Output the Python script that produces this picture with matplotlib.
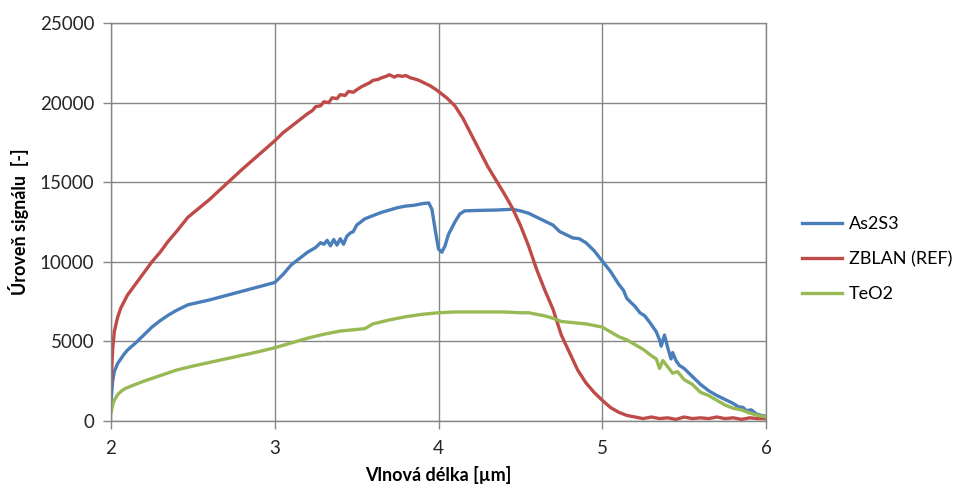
import matplotlib
matplotlib.use("Agg")
import matplotlib.pyplot as plt
from matplotlib.lines import Line2D

plt.rcParams['font.family'] = ['Lato', 'DejaVu Sans']

# ---- data ----
x_as2s3 = [2.00, 2.01, 2.02, 2.04, 2.06, 2.08, 2.10, 2.15, 2.20, 2.25, 2.30, 2.35, 2.40, 2.47,
           2.60, 2.80, 3.00, 3.05, 3.10, 3.15, 3.20, 3.25, 3.28, 3.30, 3.32, 3.34, 3.36, 3.38,
           3.40, 3.42, 3.44, 3.46, 3.48, 3.50, 3.55, 3.60, 3.65, 3.70, 3.75, 3.80, 3.85, 3.90,
           3.94, 3.96, 3.98, 4.00, 4.02, 4.04, 4.06, 4.08, 4.10, 4.13, 4.16, 4.25, 4.35, 4.45,
           4.50, 4.55, 4.60, 4.65, 4.70, 4.74, 4.78, 4.82, 4.86, 4.90, 4.95, 5.00, 5.05, 5.10,
           5.13, 5.15, 5.18, 5.20, 5.23, 5.26, 5.29, 5.31, 5.33, 5.35, 5.36, 5.38, 5.40, 5.42,
           5.43, 5.45, 5.47, 5.50, 5.55, 5.60, 5.65, 5.70, 5.75, 5.80, 5.83, 5.86, 5.88, 5.91,
           5.94, 5.97, 6.00]
y_as2s3 = [1200, 2500, 3100, 3600, 3900, 4200, 4450, 4900, 5400, 5900, 6300, 6650, 6950, 7300,
           7600, 8150, 8700, 9200, 9800, 10200, 10600, 10900, 11200, 11100, 11350, 11000, 11400, 11050,
           11450, 11100, 11600, 11800, 11900, 12300, 12700, 12900, 13100, 13250, 13400, 13500, 13550, 13650,
           13700, 13300, 12000, 10800, 10600, 11000, 11700, 12100, 12500, 13000, 13200, 13230, 13250, 13300,
           13200, 13050, 12800, 12550, 12300, 11900, 11700, 11500, 11450, 11200, 10700, 10050, 9400, 8600,
           8200, 7700, 7400, 7200, 6800, 6600, 6200, 5900, 5600, 5100, 4700, 5400, 4600, 3900,
           4300, 3800, 3500, 3300, 2800, 2300, 1900, 1600, 1350, 1100, 900, 850, 650, 700,
           450, 350, 300]

x_zblan = [2.00, 2.01, 2.02, 2.04, 2.06, 2.08, 2.10, 2.15, 2.20, 2.25, 2.30, 2.35, 2.40, 2.47,
           2.60, 2.80, 3.00, 3.05, 3.10, 3.15, 3.20, 3.23, 3.25, 3.28, 3.30, 3.33, 3.35, 3.38,
           3.40, 3.43, 3.45, 3.48, 3.50, 3.53, 3.55, 3.58, 3.60, 3.63, 3.65, 3.68, 3.70, 3.73,
           3.75, 3.78, 3.80, 3.83, 3.85, 3.88, 3.90, 3.93, 3.95, 3.98, 4.00, 4.05, 4.10, 4.15,
           4.20, 4.30, 4.40, 4.45, 4.50, 4.55, 4.60, 4.65, 4.70, 4.75, 4.80, 4.85, 4.90, 4.95,
           5.00, 5.05, 5.10, 5.15, 5.20, 5.25, 5.30, 5.35, 5.40, 5.45, 5.50, 5.55, 5.60, 5.65,
           5.70, 5.75, 5.80, 5.85, 5.90, 5.95, 6.00]
y_zblan = [2300, 4500, 5600, 6500, 7100, 7500, 7900, 8600, 9300, 10000, 10600, 11300, 11900, 12800,
           13900, 15800, 17600, 18100, 18500, 18900, 19300, 19500, 19750, 19800, 20050, 20000, 20300, 20250,
           20500, 20450, 20700, 20650, 20800, 21000, 21100, 21250, 21400, 21450, 21550, 21650, 21750, 21600,
           21700, 21650, 21700, 21550, 21500, 21400, 21300, 21150, 21050, 20850, 20700, 20300, 19800, 19000,
           18000, 16000, 14300, 13400, 12300, 11000, 9500, 8200, 7000, 5400, 4300, 3200, 2400, 1800,
           1300, 850, 550, 350, 250, 150, 250, 150, 200, 100, 250, 150, 200, 150,
           250, 150, 200, 100, 200, 150, 150]

x_teo2 = [2.00, 2.01, 2.02, 2.04, 2.06, 2.08, 2.10, 2.15, 2.20, 2.30, 2.40, 2.50, 2.70, 2.90,
          3.00, 3.10, 3.20, 3.30, 3.40, 3.50, 3.55, 3.60, 3.70, 3.80, 3.90, 4.00, 4.10, 4.20,
          4.30, 4.40, 4.50, 4.55, 4.60, 4.65, 4.70, 4.75, 4.80, 4.85, 4.90, 4.95, 5.00, 5.05,
          5.10, 5.15, 5.20, 5.25, 5.30, 5.33, 5.35, 5.37, 5.40, 5.43, 5.46, 5.50, 5.55, 5.60,
          5.65, 5.70, 5.75, 5.80, 5.85, 5.90, 5.95, 6.00]
y_teo2 = [500, 1000, 1300, 1650, 1850, 2000, 2100, 2300, 2500, 2850, 3200, 3450, 3900, 4350,
          4600, 4900, 5200, 5450, 5650, 5750, 5800, 6100, 6350, 6550, 6700, 6800, 6850, 6850,
          6850, 6850, 6800, 6800, 6700, 6600, 6450, 6250, 6200, 6150, 6100, 6000, 5900, 5600,
          5300, 5100, 4800, 4500, 4100, 3900, 3300, 3800, 3400, 3000, 3100, 2600, 2300, 1800,
          1600, 1300, 1000, 800, 700, 500, 350, 250]

series_names = ['As2S3', 'ZBLAN (REF)', 'TeO2']
series_colors = ['#4A7EBB', '#BE4B48', '#98B954']

x_ticks = [2, 3, 4, 5, 6]
y_ticks = [0, 5000, 10000, 15000, 20000, 25000]

# ---- figure ----
fig = plt.figure(figsize=(9.56, 4.87), dpi=100)
ax = fig.add_axes([111/956, 1 - 421/487, (766-111)/956, (421-23)/487])

data = [(x_as2s3, y_as2s3), (x_zblan, y_zblan), (x_teo2, y_teo2)]
for (xs, ys), name, c in zip(data, series_names, series_colors):
    ax.plot(xs, ys, color=c, lw=2.4, label=name, solid_joinstyle='round')

ax.set_xlim(2, 6)
ax.set_ylim(0, 25000)
ax.set_xticks(x_ticks)
ax.set_yticks(y_ticks)
ax.set_xticklabels([str(t) for t in x_ticks])
ax.set_yticklabels([str(t) for t in y_ticks])
ax.grid(True, color='#868686', lw=1.0)
ax.set_axisbelow(True)
for s in ax.spines.values():
    s.set_color('#868686')
    s.set_linewidth(1.0)
ax.tick_params(axis='both', colors='#868686', labelcolor='#262626', labelsize=13.5,
               direction='out', length=6, width=1.0)
ax.tick_params(axis='x', pad=8)
ax.tick_params(axis='y', pad=6)

ax.set_xlabel('Vlnová délka [µm]', fontsize=13, fontweight='bold', labelpad=6)
ax.set_ylabel('Úroveň signálu  [-]', fontsize=13, fontweight='bold', labelpad=8)

handles = [Line2D([0], [0], color=c, lw=2.4) for c in series_colors]
leg = fig.legend(handles, series_names, loc='upper left', bbox_to_anchor=(793/956, 1 - 207/487),
                 frameon=False, fontsize=13, handlelength=2.2, handletextpad=0.4,
                 labelspacing=1.05, borderpad=0)

fig.savefig('out.png', dpi=100)
